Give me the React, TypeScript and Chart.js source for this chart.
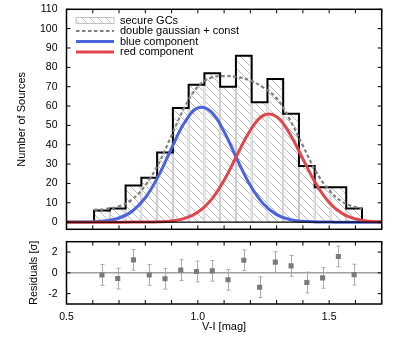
import React, { useEffect, useRef } from "react";
import { Chart, registerables } from "chart.js";

Chart.register(...registerables);

const FONT = "'Liberation Sans', Arial, Helvetica, sans-serif";

// Histogram (secure GCs)
const binCenters = [0.635, 0.695, 0.755, 0.815, 0.875, 0.935, 0.995, 1.055, 1.115, 1.175, 1.235, 1.295, 1.355, 1.415, 1.475, 1.535, 1.595];
const binWidth = 0.06;
const counts = [6, 7, 19, 23, 36, 59, 71, 77, 70, 86, 62, 74, 56, 29, 18, 18, 7];

// Residuals (in sigma)
const residuals = [-0.2, -0.55, 1.25, -0.2, -0.57, 0.26, 0.13, 0.19, -0.67, 1.22, -1.38, 1.03, 0.67, -0.93, -0.48, 1.58, -0.17];
const residualErr = [1, 1, 1, 1, 1, 1, 1, 1, 1, 1, 1, 1, 1, 1, 1, 1, 1];

// Component curves
const curveX = [0.5, 0.55, 0.6, 0.65, 0.7, 0.75, 0.8, 0.85, 0.9, 0.95, 1.0, 1.05, 1.1, 1.15, 1.2, 1.25, 1.3, 1.35, 1.4, 1.45, 1.5, 1.55, 1.6, 1.65, 1.7];
const blueComponent = [0.01, 0.04, 0.18, 0.68, 2.13, 5.64, 12.6, 23.9, 38.2, 51.6, 59.0, 57.1, 46.7, 32.3, 18.9, 9.34, 3.9, 1.38, 0.41, 0.1, 0.02, 0, 0, 0, 0];
const redComponent = [0, 0, 0, 0, 0, 0.01, 0.04, 0.18, 0.64, 1.96, 5.14, 11.4, 21.6, 34.8, 47.5, 55.2, 54.5, 45.7, 32.6, 19.8, 10.2, 4.46, 1.66, 0.52, 0.14];

// Double gaussian + const fit
const fitX = [0.605, 0.65, 0.7, 0.75, 0.8, 0.85, 0.9, 0.95, 1.0, 1.05, 1.1, 1.15, 1.2, 1.25, 1.3, 1.35, 1.4, 1.45, 1.5, 1.55, 1.6, 1.625];
const fitTotal = [6.3, 6.8, 8.2, 11.7, 19.0, 30.1, 44.8, 59.5, 70.0, 74.6, 75.5, 75.0, 73.2, 69.5, 64.0, 53.0, 39.5, 26.0, 16.5, 10.5, 7.8, 6.9];

// Tick positions
const xTickValues = [0.5, 0.6, 0.7, 0.8, 0.9, 1.0, 1.1, 1.2, 1.3, 1.4, 1.5, 1.6, 1.7];
const xLabelValues = [0.5, 1.0, 1.5];
const countTickValues = [0, 10, 20, 30, 40, 50, 60, 70, 80, 90, 100, 110];
const residualTickValues = [-2, 0, 2];

const BLUE = "#4b63dd";
const RED = "#e0474c";
const GRAY = "#808080";

function makeHatch(): CanvasPattern | string {
  const c = document.createElement("canvas");
  c.width = 8;
  c.height = 8;
  const g = c.getContext("2d");
  if (!g) return "#eee";
  g.strokeStyle = "#bdbdbd";
  g.lineWidth = 1;
  g.beginPath();
  for (const o of [-8, 0, 8]) {
    g.moveTo(o, 0);
    g.lineTo(o + 8, 8);
  }
  g.stroke();
  return g.createPattern(c, "repeat") || "#eee";
}

const framePlugin = {
  id: "frameTicks",
  afterDraw(chart: any) {
    const { ctx, chartArea: a, scales } = chart;
    const x = scales.x;
    const y = scales.y;
    ctx.save();
    ctx.strokeStyle = "#000";
    ctx.lineWidth = 1;
    ctx.beginPath();
    for (const v of xTickValues) {
      const px = x.getPixelForValue(v);
      ctx.moveTo(px, a.top);
      ctx.lineTo(px, a.top + 4);
      ctx.moveTo(px, a.bottom);
      ctx.lineTo(px, a.bottom - 4);
    }
    for (const t of y.ticks) {
      const py = y.getPixelForValue(t.value);
      ctx.moveTo(a.left, py);
      ctx.lineTo(a.left + 4, py);
      ctx.moveTo(a.right, py);
      ctx.lineTo(a.right - 4, py);
    }
    ctx.stroke();
    ctx.lineWidth = 1.5;
    ctx.strokeRect(a.left, a.top, a.right - a.left, a.bottom - a.top);
    ctx.restore();
  },
};

function legendPlugin(hatch: CanvasPattern | string) {
  return {
    id: "customLegend",
    afterDatasetsDraw(chart: any) {
      const { ctx } = chart;
      const ds = chart.data.datasets;
      const x0 = 76;
      const x1 = 114;
      const tx = 120;
      const rows = [20.5, 31, 41.5, 52];
      ctx.save();
      ctx.font = `11px ${FONT}`;
      ctx.textBaseline = "middle";
      ctx.textAlign = "left";
      ctx.fillStyle = hatch as any;
      ctx.fillRect(x0, rows[0] - 3, x1 - x0, 6);
      ctx.strokeStyle = "#c4c4c4";
      ctx.lineWidth = 1;
      ctx.strokeRect(x0, rows[0] - 3, x1 - x0, 6);
      const lineRows = [
        { i: 2, y: rows[1] },
        { i: 3, y: rows[2] },
        { i: 4, y: rows[3] },
      ];
      for (const r of lineRows) {
        const d = ds[r.i];
        ctx.strokeStyle = d.borderColor;
        ctx.lineWidth = d.borderWidth;
        ctx.setLineDash(d.borderDash || []);
        ctx.beginPath();
        ctx.moveTo(x0, r.y);
        ctx.lineTo(x1, r.y);
        ctx.stroke();
      }
      ctx.setLineDash([]);
      ctx.fillStyle = "#000";
      ctx.fillText(ds[0].label, tx, rows[0]);
      ctx.fillText(ds[2].label, tx, rows[1]);
      ctx.fillText(ds[3].label, tx, rows[2]);
      ctx.fillText(ds[4].label, tx, rows[3]);
      ctx.restore();
    },
  };
}

const errorBarPlugin = {
  id: "errorBars",
  beforeDatasetsDraw(chart: any) {
    const { ctx, scales } = chart;
    const x = scales.x;
    const y = scales.y;
    ctx.save();
    ctx.strokeStyle = "#ababab";
    ctx.lineWidth = 1;
    ctx.beginPath();
    binCenters.forEach((c, i) => {
      const px = Math.round(x.getPixelForValue(c)) + 0.5;
      const lo = y.getPixelForValue(residuals[i] - residualErr[i]);
      const hi = y.getPixelForValue(residuals[i] + residualErr[i]);
      ctx.moveTo(px, lo);
      ctx.lineTo(px, hi);
      ctx.moveTo(px - 2, lo);
      ctx.lineTo(px + 2, lo);
      ctx.moveTo(px - 2, hi);
      ctx.lineTo(px + 2, hi);
    });
    ctx.stroke();
    ctx.restore();
  },
};

export default function App() {
  const topRef = useRef<HTMLCanvasElement>(null);
  const botRef = useRef<HTMLCanvasElement>(null);

  useEffect(() => {
    Chart.defaults.font.family = FONT;
    Chart.defaults.color = "#000";
    const hatch = makeHatch();
    const half = binWidth / 2;
    const stepPts = [
      { x: binCenters[0] - half, y: 0 },
      ...binCenters.map((c, i) => ({ x: c - half, y: counts[i] })),
      { x: binCenters[binCenters.length - 1] + half, y: 0 },
    ];

    const top = new Chart(topRef.current as HTMLCanvasElement, {
      type: "line",
      data: {
        datasets: [
          {
            type: "bar",
            label: "secure GCs",
            data: binCenters.map((c, i) => ({ x: c, y: counts[i] })),
            backgroundColor: hatch as any,
            borderColor: "#c6c6c6",
            borderWidth: { left: 1, right: 1, top: 0, bottom: 0 },
            borderSkipped: false,
            barPercentage: 1,
            categoryPercentage: 1,
            inflateAmount: 0,
            order: 10,
          } as any,
          {
            label: "histogram",
            data: stepPts,
            borderColor: "#000",
            borderWidth: 2,
            stepped: true,
            pointRadius: 0,
            fill: false,
            order: 8,
          },
          {
            label: "double gaussian + const",
            data: fitX.map((v, i) => ({ x: v, y: fitTotal[i] })),
            borderColor: GRAY,
            borderWidth: 2.2,
            borderDash: [3.5, 2.5],
            tension: 0.4,
            pointRadius: 0,
            fill: false,
            order: 6,
          },
          {
            label: "blue component",
            data: curveX.map((v, i) => ({ x: v, y: blueComponent[i] })),
            borderColor: BLUE,
            borderWidth: 3,
            tension: 0.4,
            pointRadius: 0,
            fill: false,
            order: 5,
          },
          {
            label: "red component",
            data: curveX.map((v, i) => ({ x: v, y: redComponent[i] })),
            borderColor: RED,
            borderWidth: 3,
            tension: 0.4,
            pointRadius: 0,
            fill: false,
            order: 4,
          },
          {
            label: "zero",
            data: [
              { x: 0.5, y: 0 },
              { x: 1.7, y: 0 },
            ],
            borderColor: "#000",
            borderWidth: 1.2,
            pointRadius: 0,
            fill: false,
            order: 3,
          },
        ],
      },
      options: {
        responsive: false,
        animation: false,
        events: [],
        layout: { padding: { left: 0, right: 17.3, top: 9.3, bottom: 8.7 } },
        plugins: { legend: { display: false }, tooltip: { enabled: false } },
        scales: {
          x: {
            type: "linear",
            min: 0.5,
            max: 1.7,
            offset: false,
            display: false,
            ticks: { stepSize: 0.1 },
            grid: { offset: false },
          },
          y: {
            type: "linear",
            min: -3.7,
            max: 110,
            afterBuildTicks: (s: any) => {
              s.ticks = countTickValues.map((v) => ({ value: v }));
            },
            ticks: { padding: 0, font: { size: 10.5 }, color: "#000" },
            grid: { display: false, drawTicks: true, tickLength: 9 },
            border: { display: false },
            title: {
              display: true,
              text: "Number of Sources",
              font: { size: 11 },
              color: "#000",
              padding: { top: 15.4, bottom: 0 },
            },
            afterFit: (s: any) => {
              s.width = 66.5;
            },
          },
        },
      } as any,
      plugins: [framePlugin, legendPlugin(hatch)],
    });

    const bot = new Chart(botRef.current as HTMLCanvasElement, {
      type: "scatter",
      data: {
        datasets: [
          {
            label: "residuals",
            data: binCenters.map((c, i) => ({ x: c, y: residuals[i] })),
            pointStyle: "rect",
            pointRadius: 3.6,
            backgroundColor: "#7a7a7a",
            borderColor: "#7a7a7a",
            borderWidth: 0,
            order: 1,
          },
          {
            type: "line",
            label: "zero",
            data: [
              { x: 0.5, y: 0 },
              { x: 1.7, y: 0 },
            ],
            borderColor: "#a0a0a0",
            borderWidth: 1.5,
            pointRadius: 0,
            fill: false,
            order: 2,
          } as any,
        ],
      },
      options: {
        responsive: false,
        animation: false,
        events: [],
        layout: { padding: { left: 0, right: 17.3, top: 13.7, bottom: 0 } },
        plugins: { legend: { display: false }, tooltip: { enabled: false } },
        scales: {
          x: {
            type: "linear",
            min: 0.5,
            max: 1.7,
            offset: false,
            afterBuildTicks: (s: any) => {
              s.ticks = xLabelValues.map((v) => ({ value: v }));
            },
            ticks: {
              padding: 7,
              font: { size: 10.5 },
              color: "#000",
              callback: (v: any) => Number(v).toFixed(1),
            },
            grid: { display: false, drawTicks: false },
            border: { display: false },
            title: {
              display: true,
              text: "V-I [mag]",
              font: { size: 11 },
              color: "#000",
              padding: { top: 0, bottom: 8.7 },
            },
            afterFit: (s: any) => {
              s.height = 38;
            },
          },
          y: {
            type: "linear",
            min: -3,
            max: 3,
            afterBuildTicks: (s: any) => {
              s.ticks = residualTickValues.map((v) => ({ value: v }));
            },
            ticks: { padding: 0, font: { size: 10.5 }, color: "#000", callback: (v: any) => String(v) },
            grid: { display: false, drawTicks: true, tickLength: 9 },
            border: { display: false },
            title: {
              display: true,
              text: "Residuals [σ]",
              font: { size: 11 },
              color: "#000",
              padding: { top: 26.9, bottom: 0 },
            },
            afterFit: (s: any) => {
              s.width = 66.5;
            },
          },
        },
      } as any,
      plugins: [framePlugin, errorBarPlugin],
    });

    return () => {
      top.destroy();
      bot.destroy();
    };
  }, []);

  return (
    <div
      style={{
        position: "fixed",
        left: 0,
        top: 0,
        width: 399,
        height: 342,
        background: "#fff",
        overflow: "hidden",
      }}
    >
      <canvas
        ref={topRef}
        width={399}
        height={238}
        style={{ position: "absolute", left: 0, top: 0, width: 399, height: 238 }}
      />
      <canvas
        ref={botRef}
        width={399}
        height={114}
        style={{ position: "absolute", left: 0, top: 228, width: 399, height: 114 }}
      />
    </div>
  );
}
